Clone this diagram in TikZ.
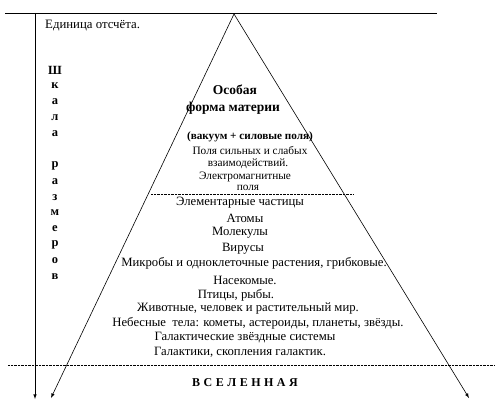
\documentclass[tikz,border=0pt]{standalone}
\usepackage{fontspec}
\setmainfont{Liberation Serif}
\usepackage{tikz}
\usetikzlibrary{arrows,positioning,calc}

\begin{document}
\begin{tikzpicture}[
            x=1pt, y=-1pt,
            big/.style={inner sep=0pt, font=\bfseries\fontsize{13.5}{15}\selectfont},
            mid/.style={inner sep=0pt, font=\fontsize{11.3}{12}\selectfont},
            row/.style={inner sep=0pt, font=\fontsize{12.7}{14}\selectfont},
            arrow/.style={-latex, semithick},
            sep/.style={densely dotted, thin}
        ]
            \useasboundingbox (0,0) rectangle (500,403);

            % axes of the scale
            \coordinate (topleft) at (5,13);
            \coordinate (topright) at (437,13);
            \coordinate (apex) at (234,14);
            \coordinate (axis) at (35,13);
            \coordinate (axisend) at (35,399);
            \coordinate (leftend) at (51,398);
            \coordinate (rightend) at (469,398);

            \draw[thick] (topleft) -- (topright);
            \draw[arrow] (axis) -- (axisend);
            \draw[arrow] (apex) -- (leftend);
            \draw[arrow] (apex) -- (rightend);

            \node[anchor=west, inner sep=0pt, font=\fontsize{12.8}{14}\selectfont] (unit) at (45,26) {Единица отсчёта.};

            % vertical label
            \foreach \ch [count=\i] in {Ш,к,а,л,а,{},р,а,з,м,е,р,о,в}
                \node[inner sep=0pt, font=\bfseries\fontsize{12.5}{13}\selectfont] (scale\i) at (55,{70+15.9*(\i-1)}) {\ch};

            % pyramid
            \node[big] (special) at (235,90) {Особая};
            \node[big] (form) at (233,108) {форма материи};
            \node[inner sep=0pt, font=\bfseries\fontsize{11.2}{12}\selectfont] (vacuum) at (250,137) {(вакуум + силовые поля)};
            \node[mid] (strong) at (250,151) {Поля сильных и слабых};
            \node[mid] (inter) at (248,164) {взаимодействий.};
            \node[mid] (electro) at (245,177) {Электромагнитные};
            \node[mid] (fields) at (248,188) {поля};

            \coordinate (sepAl) at (151,194);
            \coordinate (sepAr) at (353,194);
            \draw[sep] (sepAl) -- (sepAr);

            \node[row] (elem) at (240,203) {Элементарные частицы};
            \node[row] (atoms) at (245,218) {Атомы};
            \node[row] (molec) at (240,233) {Молекулы};
            \node[row] (virus) at (243,249) {Вирусы};
            \node[row] (microbe) at (254,263) {Микробы и одноклеточные растения, грибковые.};
            \node[row] (insect) at (245,280) {Насекомые.};
            \node[row] (birds) at (236,295) {Птицы, рыбы.};
            \node[row] (animal) at (248,309) {Животные, человек и растительный мир.};
            \node[row] (bodies) at (258,323) {Небесные\ \ тела: кометы, астероиды, планеты, звёзды.};
            \node[row] (galsys) at (245,338) {Галактические звёздные системы};
            \node[row] (galaxy) at (240,352) {Галактики, скопления галактик.};

            \coordinate (sepBl) at (8,365);
            \coordinate (sepBr) at (495,365);
            \draw[sep] (sepBl) -- (sepBr);

            \node[inner sep=0pt, font=\bfseries\fontsize{12}{14}\selectfont] (universe) at (245,383)
                {В\hspace{3.5pt}С\hspace{3.5pt}Е\hspace{3.5pt}Л\hspace{3.5pt}Е\hspace{3.5pt}Н\hspace{3.5pt}Н\hspace{3.5pt}А\hspace{3.5pt}Я};
        \end{tikzpicture}
\end{document}
